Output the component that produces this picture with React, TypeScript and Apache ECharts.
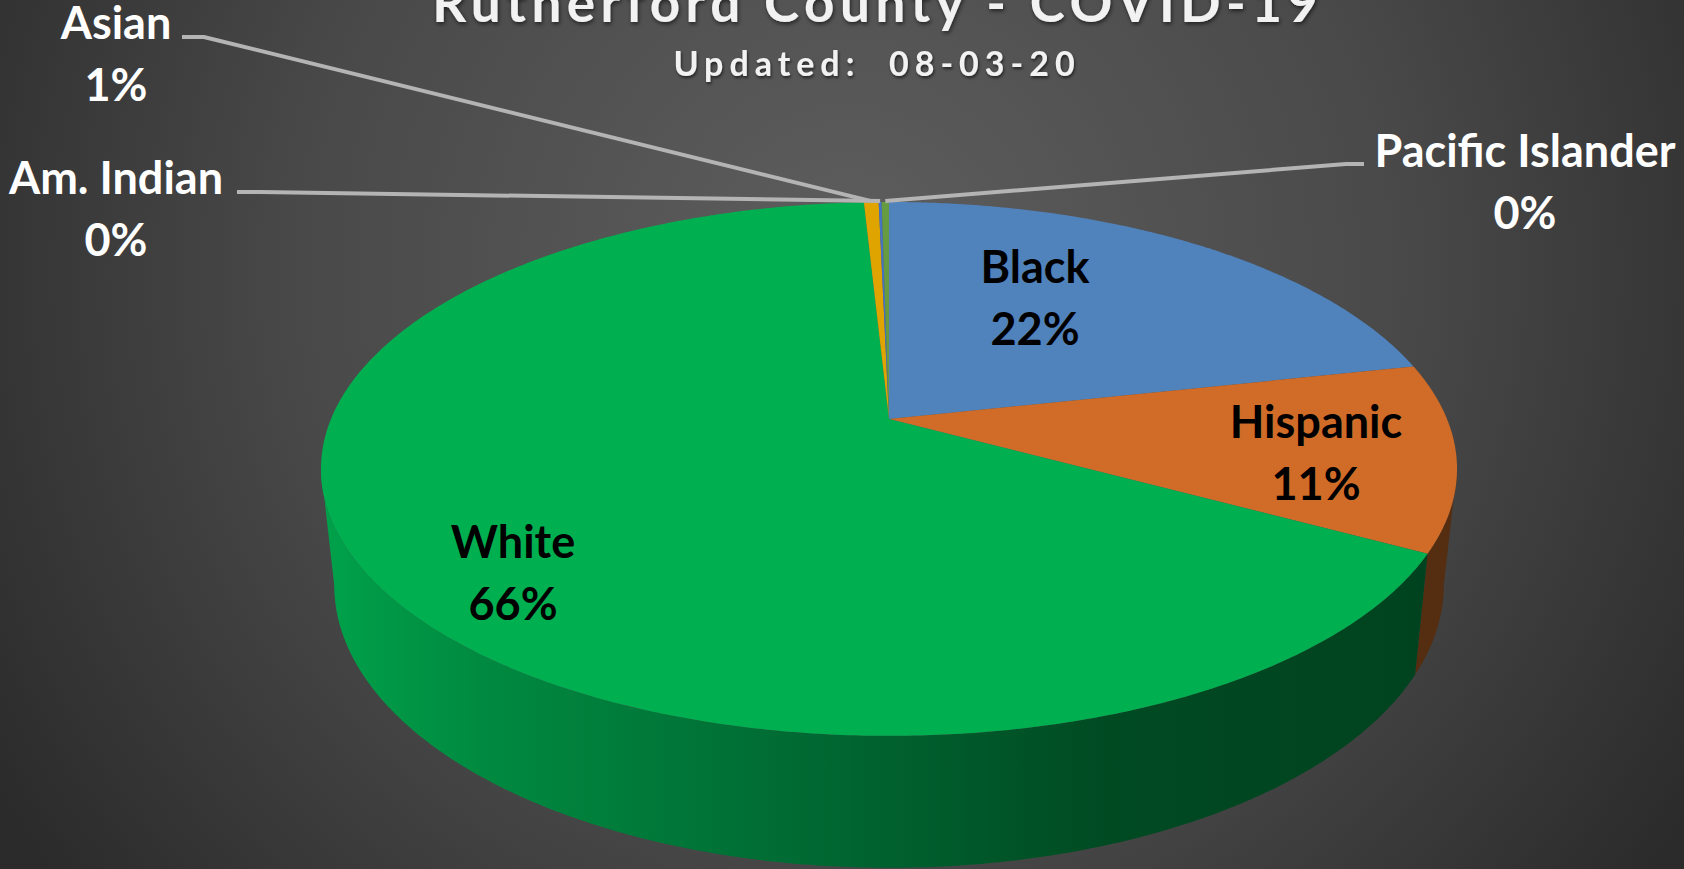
import React, { useEffect, useRef } from "react";
import * as echarts from "echarts";

const categories = ["Black", "Hispanic", "White", "Asian", "Am. Indian", "Pacific Islander"];
const shares = [21.6, 11.3, 66.25, 0.5, 0.1, 0.25];
const topColors = ["#5082BC", "#D06C28", "#00B050", "#E0A400", "#4472C4", "#669B41"];
const titleText = "Rutherford County - COVID-19";
const subtitleText = "Updated:  08-03-20";

const W = 1684;
const H = 869;
const PERSPECTIVE = 0.187;
const TOP = { ax: 889, ay: 419, s: 558, k: 257.6 };
const BOTTOM = { ax: 889, ay: 532, s: 545, k: 273 };
const TOTAL = shares.reduce((a, b) => a + b, 0);
const LEFT_TANGENT = 270 - (Math.asin(PERSPECTIVE) * 180) / Math.PI;
const RIGHT_TANGENT = 90 + (Math.asin(PERSPECTIVE) * 180) / Math.PI;

// label centres and leader-line elbows (layout only)
const labelLayout = [
  { x: 1035, y: 297, color: "#000000" },
  { x: 1316, y: 452, color: "#000000" },
  { x: 513, y: 572, color: "#000000" },
  { x: 116, y: 53, color: "#FFFFFF", leader: [[182, 37], [204, 37]] },
  { x: 116, y: 208, color: "#FFFFFF", leader: [[237, 192], [260, 192]] },
  { x: 1525, y: 181, color: "#FFFFFF", leader: [[1364, 164], [1346, 164]] },
];

function project(p: { ax: number; ay: number; s: number; k: number }, deg: number): number[] {
  const t = (deg * Math.PI) / 180;
  const X = Math.sin(t);
  const Y = -Math.cos(t);
  const d = 1 - PERSPECTIVE * Y;
  return [p.ax + (p.s * X) / d, p.ay + (p.k * Y) / d];
}

function arc(p: typeof TOP, a: number, b: number): number[][] {
  const n = Math.max(2, Math.ceil(Math.abs(b - a) / 0.5));
  const out: number[][] = [];
  for (let i = 0; i <= n; i++) out.push(project(p, a + ((b - a) * i) / n));
  return out;
}

function angles(i: number): [number, number] {
  let sum = 0;
  for (let j = 0; j < i; j++) sum += shares[j];
  return [(sum / TOTAL) * 360, ((sum + shares[i]) / TOTAL) * 360];
}

const wallFill = (i: number) =>
  categories[i] === "White"
    ? new echarts.graphic.LinearGradient(
        335, 0, 1440, 0,
        [
          { offset: 0, color: "#00A04A" },
          { offset: 0.13, color: "#008A40" },
          { offset: 0.42, color: "#006A33" },
          { offset: 0.7, color: "#004A22" },
          { offset: 1, color: "#00421F" },
        ],
        true
      )
    : "#552D10";

function App() {
  const ref = useRef<HTMLDivElement>(null);
  useEffect(() => {
    document.body.style.margin = "0";
    document.body.style.overflow = "hidden";
    const chart = echarts.init(ref.current!, undefined, { renderer: "svg" });
    const data = categories.map((name, i) => ({ name, value: [shares[i]] }));

    const renderWall = (params: any) => {
      const i = params.dataIndex;
      const [a0, b0] = angles(i);
      const a = Math.max(a0, RIGHT_TANGENT);
      const b = Math.min(b0, LEFT_TANGENT);
      if (b <= a) return { type: "group", children: [] };
      const points = [...arc(TOP, a, b), ...arc(BOTTOM, b, a)];
      return { type: "polygon", shape: { points }, style: { fill: wallFill(i) } };
    };

    const renderFace = (params: any) => {
      const i = params.dataIndex;
      const [a, b] = angles(i);
      const points = [[TOP.ax, TOP.ay], ...arc(TOP, a, b)];
      return { type: "polygon", shape: { points }, style: { fill: topColors[i] } };
    };

    const renderLabel = (params: any, api: any) => {
      const i = params.dataIndex;
      const [a, b] = angles(i);
      const pct = Math.round(api.value(0));
      const l = labelLayout[i];
      const children: any[] = [];
      if (l.leader) {
        const end = project(TOP, (a + b) / 2);
        children.push({
          type: "polyline",
          shape: { points: [...l.leader, [end[0], end[1] - 1]] },
          style: { stroke: "#B4B4B4", lineWidth: 4, fill: "none" },
        });
      }
      children.push({
        type: "text",
        x: l.x,
        y: l.y,
        style: {
          text: `${categories[i]}\n${pct}%`,
          fill: l.color,
          fontFamily: "Lato",
          fontWeight: "bold",
          fontSize: 45,
          lineHeight: 62,
          textAlign: "center",
          textVerticalAlign: "middle",
        },
      });
      return { type: "group", children };
    };

    chart.setOption({
      animation: false,
      backgroundColor: new echarts.graphic.RadialGradient(
        850, 270, 1000,
        [
          { offset: 0, color: "#5E5E5E" },
          { offset: 0.55, color: "#494949" },
          { offset: 1, color: "#2B2B2B" },
        ],
        true
      ),
      graphic: [
        {
          type: "text",
          x: 878,
          y: 1,
          style: {
            text: titleText,
            fill: "#F2F2F2",
            fontFamily: "Lato",
            fontWeight: "bold",
            fontSize: 53,
            textAlign: "center",
            textVerticalAlign: "middle",
            textShadowColor: "rgba(0,0,0,0.6)",
            textShadowBlur: 4,
            textShadowOffsetX: 1,
            textShadowOffsetY: 2,
          },
        },
        {
          type: "text",
          x: 877,
          y: 62,
          style: {
            text: subtitleText,
            fill: "#F2F2F2",
            fontFamily: "Lato",
            fontWeight: "bold",
            fontSize: 34,
            textAlign: "center",
            textVerticalAlign: "middle",
            textShadowColor: "rgba(0,0,0,0.6)",
            textShadowBlur: 3,
            textShadowOffsetX: 1,
            textShadowOffsetY: 2,
          },
        },
      ],
      series: [
        { type: "custom", coordinateSystem: "none", data, renderItem: renderWall, silent: true, z: 1 },
        { type: "custom", coordinateSystem: "none", data, renderItem: renderFace, silent: true, z: 2 },
        { type: "custom", coordinateSystem: "none", data, renderItem: renderLabel, silent: true, z: 3 },
      ],
    });

    const spaceOut = () => {
      ref.current?.querySelectorAll("text").forEach((t) => {
        if (t.textContent === titleText) t.style.letterSpacing = "5.5px";
        if (t.textContent === subtitleText) t.style.letterSpacing = "6px";
      });
    };
    chart.on("finished", spaceOut);
    spaceOut();
    const raf = requestAnimationFrame(spaceOut);
    return () => {
      cancelAnimationFrame(raf);
      chart.dispose();
    };
  }, []);
  return <div ref={ref} style={{ width: W, height: H }} />;
}

export default App;
